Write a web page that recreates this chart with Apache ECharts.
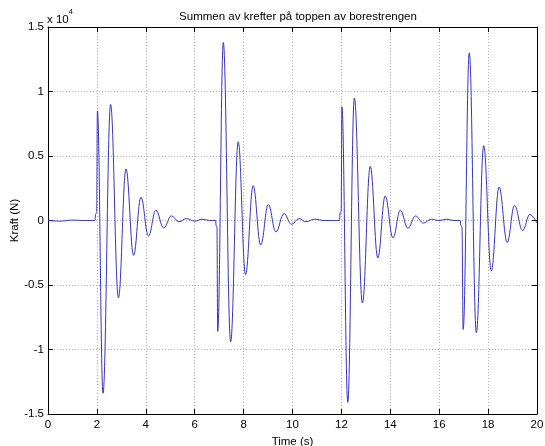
<!DOCTYPE html>
<html>
<head>
<meta charset="utf-8">
<script src="https://cdn.jsdelivr.net/npm/echarts@6/dist/echarts.min.js"></script>
<style>
  html, body { margin: 0; padding: 0; background: #fff; }
  #chart { width: 545px; height: 446px; }
</style>
</head>
<body>
<div id="chart"></div>
<script>
// tid (s) og kraft (x 10^4 N): topp- og bunnpunkter
var tid = [
    0, 0.5, 1.0, 1.5, 1.92, 1.95, 1.99, 2.02, 2.25, 2.56, 2.88, 3.19, 3.50, 3.80, 4.11, 4.41, 4.73, 5.05, 5.36, 5.66, 6.0, 6.3, 6.6,
    6.85, 6.88, 6.91, 6.94, 7.17, 7.47, 7.78, 8.08, 8.39, 8.70, 9.01, 9.32, 9.65, 9.96, 10.27, 10.55, 10.9, 11.3, 11.6,
    11.92, 11.95, 11.99, 12.02, 12.26, 12.53, 12.86, 13.18, 13.49, 13.79, 14.11, 14.41, 14.72, 15.03, 15.36, 15.67, 16.0, 16.3, 16.6,
    16.86, 16.89, 16.93, 16.98, 17.23, 17.52, 17.82, 18.13, 18.45, 18.78, 19.08, 19.41, 19.71, 20
];
var kraft = [
    0, -0.005, 0.003, 0, 0, 0.05, 0.06, 0.85, -1.34, 0.90, -0.60, 0.40, -0.27, 0.18, -0.12, 0.08, -0.057, 0.036, -0.01, 0.015, -0.005, 0.01, 0,
    0, -0.04, -0.05, -0.86, 1.38, -0.94, 0.61, -0.42, 0.27, -0.19, 0.124, -0.088, 0.054, -0.03, 0.015, -0.01, 0.01, 0, 0,
    0, 0.06, 0.07, 0.88, -1.41, 0.95, -0.64, 0.42, -0.29, 0.19, -0.135, 0.08, -0.06, 0.035, -0.02, 0.01, 0, 0.01, 0,
    0, -0.04, -0.05, -0.845, 1.30, -0.87, 0.58, -0.39, 0.26, -0.17, 0.116, -0.078, 0.047, -0.02
];

var font = 'Liberation Sans, Arial, sans-serif';
var fs = 11.5;
var punkter = tid.map(function (t, i) { return [t, kraft[i]]; });

var chart = echarts.init(document.getElementById('chart'));

var tickStyle = { inside: true, length: 5, lineStyle: { color: '#000' } };
var gridStyle = { show: true, lineStyle: { color: '#b0b0b0', type: [1, 2], width: 1 } };

chart.setOption({
    backgroundColor: '#fff',
    animation: false,
    title: {
        text: 'Summen av krefter på toppen av borestrengen',
        left: 293, top: 6, textAlign: 'center',
        textStyle: { fontFamily: font, fontSize: fs, fontWeight: 'normal', color: '#000' }
    },
    graphic: [{
        type: 'text', left: 47, top: 8,
        style: {
            text: '{a|x 10}{b|4}',
            rich: {
                a: { fontFamily: font, fontSize: fs, fill: '#000', verticalAlign: 'bottom', padding: [6, 0, 0, 0] },
                b: { fontFamily: font, fontSize: 7.5, fill: '#000', verticalAlign: 'top' }
            }
        }
    }],
    grid: { left: 48, right: 8, top: 27, bottom: 32, outerBoundsMode: 'none' },
    xAxis: [{
        type: 'value', min: 0, max: 20, interval: 2,
        name: 'Time (s)', nameLocation: 'middle', nameGap: 18,
        nameTextStyle: { fontFamily: font, fontSize: fs, color: '#000' },
        axisLine: { show: true, onZero: false, lineStyle: { color: '#000' } },
        axisTick: tickStyle,
        axisLabel: { fontFamily: font, fontSize: fs, color: '#000', margin: 5 },
        splitLine: gridStyle
    }, {
        type: 'value', position: 'top', min: 0, max: 20, interval: 2,
        axisLine: { show: true, onZero: false, lineStyle: { color: '#000' } },
        axisTick: tickStyle, axisLabel: { show: false }, splitLine: { show: false }
    }],
    yAxis: [{
        type: 'value', min: -1.5, max: 1.5, interval: 0.5,
        name: 'Kraft (N)', nameLocation: 'middle', nameGap: 27, nameRotate: 90,
        nameMoveOverlap: false,
        nameTextStyle: { fontFamily: font, fontSize: fs, color: '#000' },
        axisLine: { show: true, onZero: false, lineStyle: { color: '#000' } },
        axisTick: tickStyle,
        axisLabel: { fontFamily: font, fontSize: fs, color: '#000', margin: 4 },
        splitLine: gridStyle
    }, {
        type: 'value', position: 'right', min: -1.5, max: 1.5, interval: 0.5,
        axisLine: { show: true, onZero: false, lineStyle: { color: '#000' } },
        axisTick: tickStyle, axisLabel: { show: false }, splitLine: { show: false }
    }],
    series: [{
        type: 'line',
        data: punkter,
        xAxisIndex: 0, yAxisIndex: 0,
        showSymbol: false,
        smooth: 0.4,
        smoothMonotone: 'x',
        lineStyle: { color: '#3535c0', width: 1 }
    }]
});
</script>
</body>
</html>
